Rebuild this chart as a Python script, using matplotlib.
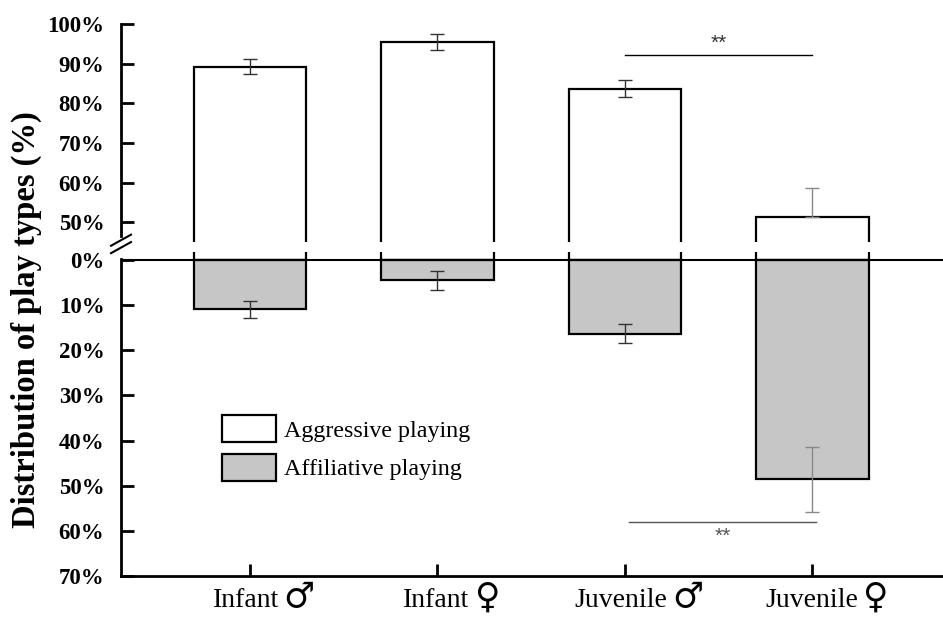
import matplotlib
matplotlib.use("Agg")
import matplotlib.pyplot as plt
from matplotlib.patches import Patch
from matplotlib.offsetbox import TextArea, HPacker, AnnotationBbox
import numpy as np

categories = ["Infant ♂", "Infant ♀", "Juvenile ♂", "Juvenile ♀"]
aggressive = [89.2, 95.5, 83.7, 51.4]
aggressive_err = [1.9, 2.1, 2.2, 7.2]
affiliative = [10.9, 4.5, 16.3, 48.6]
affiliative_err = [1.9, 2.1, 2.1, 7.2]
top_ticks = [50, 60, 70, 80, 90, 100]
bottom_ticks = [0, 10, 20, 30, 40, 50, 60, 70]

serif = ["Liberation Serif", "Noto Sans CJK SC", "DejaVu Sans"]
plt.rcParams["font.family"] = serif

W, H = 943, 617
fig = plt.figure(figsize=(W / 100, H / 100), dpi=100)

def fx(px):
    return px / W

def fy(py):
    return 1 - py / H

left = fx(121)
ax_top = fig.add_axes([left, fy(242), 1 - left, fy(24) - fy(242)])
ax_bot = fig.add_axes([left, fy(576), 1 - left, fy(252) - fy(576)])

x = np.arange(len(categories))
width = 0.6
xlim = (-0.688, 3.696)
lw = 1.6

# top axis: aggressive
ax_top.bar(x, aggressive, width=width, color="white", edgecolor="black", linewidth=lw, zorder=2)
err_lo = [e if i < 3 else 0 for i, e in enumerate(aggressive_err)]
ecols = ["#333333", "#333333", "#333333", "#888888"]
for i in range(len(x)):
    ax_top.errorbar(x[i], aggressive[i], yerr=[[err_lo[i]], [aggressive_err[i]]], fmt="none",
                    ecolor=ecols[i], elinewidth=1.0, capsize=5, capthick=1.0, zorder=3)
ax_top.set_ylim(45, 100)
ax_top.set_xlim(*xlim)
ax_top.set_yticks(top_ticks)
ax_top.set_yticklabels([f"{t}%" for t in top_ticks])
ax_top.set_xticks([])
for s in ["top", "right", "bottom"]:
    ax_top.spines[s].set_visible(False)
ax_top.spines["left"].set_linewidth(2)
ax_top.spines["left"].set_bounds(46.5, 100)

# significance top
ax_top.plot([2, 3], [92.3, 92.3], color="black", lw=1.0)
ax_top.text(2.5, 92.7, "**", ha="center", va="bottom", fontsize=15, color="#333333",
            family=["Liberation Sans", "DejaVu Sans"])

# bottom axis: affiliative
ax_bot.bar(x, [-a for a in aggressive], width=width, color="white", edgecolor="black", linewidth=lw, zorder=2)
ax_bot.bar(x, affiliative, width=width, color="#c6c6c6", edgecolor="black", linewidth=lw, zorder=2)
for i in range(len(x)):
    ax_bot.errorbar(x[i], affiliative[i], yerr=affiliative_err[i], fmt="none",
                    ecolor=ecols[i], elinewidth=1.0, capsize=5, capthick=1.0, zorder=3)
ax_bot.axhline(0, color="black", lw=1.5, zorder=4)
ax_bot.set_ylim(70, -1.8)
ax_bot.set_xlim(*xlim)
ax_bot.set_yticks(bottom_ticks)
ax_bot.set_yticklabels([f"{t}%" for t in bottom_ticks])
ax_bot.set_xticks(x)
ax_bot.set_xticklabels([])
for s in ["top", "right"]:
    ax_bot.spines[s].set_visible(False)
ax_bot.spines["left"].set_linewidth(2)
ax_bot.spines["bottom"].set_linewidth(2)
ax_bot.spines["left"].set_bounds(70, -0.2)

# category labels: word in serif, sex symbol drawn larger
for xi, cat in zip(x, categories):
    word, sym = cat.rsplit(" ", 1)
    t1 = TextArea(word, textprops=dict(fontsize=20, family=["Liberation Serif"]))
    t2 = TextArea(sym, textprops=dict(fontsize=25, family=["DejaVu Sans"]))
    pack = HPacker(children=[t1, t2], align="baseline", pad=0, sep=3)
    ab = AnnotationBbox(pack, (xi, 0), xycoords=("data", "axes fraction"),
                        xybox=(10, -3), boxcoords="offset points", box_alignment=(0.5, 1.0),
                        frameon=False, pad=0, annotation_clip=False)
    ax_bot.add_artist(ab)

# significance bottom
ax_bot.plot([2.02, 3.02], [58.0, 58.0], color="#555555", lw=1.0)
ax_bot.text(2.52, 59.0, "**", ha="center", va="top", fontsize=15, color="#555555",
            family=["Liberation Sans", "DejaVu Sans"])

for ax in (ax_top, ax_bot):
    ax.tick_params(axis="y", direction="in", length=9, width=2, labelsize=16.5, pad=12)
    for lab in ax.get_yticklabels():
        lab.set_fontweight("bold")
ax_bot.tick_params(axis="x", direction="in", length=9, width=2)

# break marks on the y axis
for dy in (0.0, 0.012):
    fig.add_artist(plt.Line2D([fx(111), fx(131)], [fy(247) - 0.010 + dy, fy(247) + 0.008 + dy],
                              color="black", lw=1.5))

fig.text(fx(26), fy(320), "Distribution of play types (%)", rotation=90, ha="center", va="center",
         fontsize=23.5, fontweight="bold")

handles = [Patch(facecolor="white", edgecolor="black", linewidth=lw, label="Aggressive playing"),
           Patch(facecolor="#c6c6c6", edgecolor="black", linewidth=lw, label="Affiliative playing")]
fig.legend(handles=handles, loc="upper left", bbox_to_anchor=(fx(222), fy(415)), frameon=False,
           fontsize=17.3, handlelength=2.25, handleheight=1.35, handletextpad=0.35, labelspacing=0.5,
           borderpad=0, borderaxespad=0)

fig.savefig("out.png", dpi=100)
